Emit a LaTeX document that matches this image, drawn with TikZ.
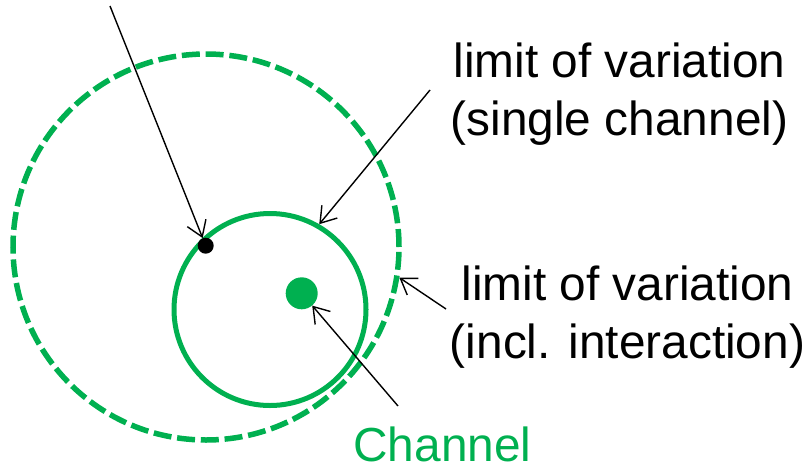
\documentclass[tikz,border=0pt]{standalone}
\usepackage{fontspec}
\setmainfont{Liberation Sans}
\usetikzlibrary{arrows.meta}
\definecolor{grn}{HTML}{00B050}
\tikzset{
  ptr/.style={draw=black, line width=1.4pt, -{Straight Barb[length=15pt,width=20pt]}},
  lbl/.style={font=\fontsize{47.8pt}{58pt}\selectfont, align=center, inner sep=0pt, outer sep=0pt},
}
\begin{document}
\begin{tikzpicture}[x=1pt,y=-1pt]
\useasboundingbox (0,0) rectangle (805,466);
% circles
\node[circle, draw=grn, line width=5.5pt, dash pattern=on 18pt off 5.8pt, minimum size=386pt, inner sep=0pt] (dc) at (206,247) {};
\node[circle, draw=grn, line width=5pt, minimum size=192pt, inner sep=0pt] (sc) at (270,309.5) {};
\node[circle, fill=grn, minimum size=32pt, inner sep=0pt] (cd) at (301.7,293.3) {};
\node[circle, fill=black, minimum size=16pt, inner sep=0pt] (bd) at (205.7,245.7) {};
% labels (anchor=base is the baseline of the last line)
\node[lbl, anchor=base] (t1) at (619.5,135) {limit of variation\\(single channel)};
\node[lbl, anchor=base] (t2) at (627.5,358) {limit of variation\\(incl. interaction)};
\node[lbl, anchor=base, text=grn] (t3) at (442.5,461) {Channel};
% free ends
\coordinate (s1) at (110,6);
\coordinate (s2) at (430,90);
\coordinate (s3) at (446,309);
\coordinate (s4) at (398,406);
% connectors
\draw[ptr] (s1) -- (bd);
\draw[ptr] (s2) -- (sc.60.4);
\draw[ptr] (s3) -- (dc.-9.5);
\draw[ptr] (s4) -- (cd);
\end{tikzpicture}
\end{document}
